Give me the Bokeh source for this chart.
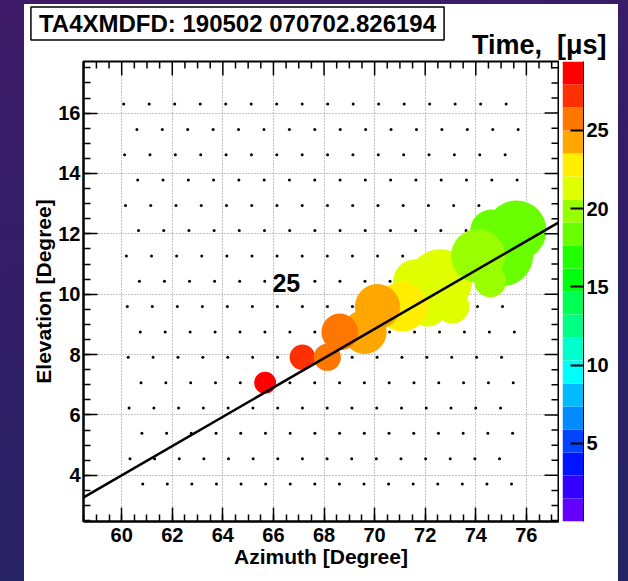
import math
from bokeh.plotting import figure
from bokeh.models import (Range1d, LinearAxis, SingleIntervalTicker, FixedTicker,
                          LinearColorMapper, Label, Slope, ColumnDataSource)
from bokeh.layouts import column, row
from bokeh.embed import file_html
from bokeh.resources import INLINE

# ---------------- data ----------------
title_text = "TA4XMDFD: 190502 070702.826194"
colorbar_title = "Time,\u00a0\u00a0[\u03bcs]"
cluster_label = "25"
x_title = "Azimuth [Degree]"
y_title = "Elevation [Degree]"

# PMT camera rows (elevation of each row, azimuth of first tube, azimuth step)
row_el = [16.30, 15.46, 14.62, 13.78, 12.94, 12.11, 11.27, 10.43,
          9.59, 8.75, 7.91, 7.07, 6.23, 5.39, 4.55, 3.71]
row_az0 = [60.080, 60.600, 60.115, 60.633, 60.151, 60.666, 60.186, 60.700,
           60.221, 60.733, 60.257, 60.765, 60.293, 60.799, 60.328, 60.832]
row_step = [1.008, 1.005, 1.003, 1.000, 0.998, 0.996, 0.993, 0.991,
            0.989, 0.986, 0.984, 0.981, 0.979, 0.977, 0.974, 0.972]
n_cols = 16

# hit tubes (row, column), time [us], signal [npe]
hit_row = [5, 6, 5, 7, 8, 8, 7, 6, 7, 8, 9, 8, 9, 10, 10, 11]
hit_col = [15, 15, 14, 12, 12, 13, 11, 14, 14, 11, 9, 10, 8, 7, 8, 5]
hit_time = [18.3, 18.0, 18.6, 21.0, 21.6, 21.2, 21.4, 19.8, 19.5, 22.6,
            24.2, 23.9, 25.3, 27.2, 25.6, 28.6]
hit_npe = [225, 225, 110, 256, 100, 72, 121, 182, 64, 156,
           121, 127, 84, 41, 46, 30]

# track fit line: elevation at azimuth 60 and slope
fit_el_at_60 = 4.0
fit_slope = 0.485

label_az, label_el = 66.51, 10.36
time_min, time_max = 0.0, 29.4
az_lo, az_hi = 58.49, 77.27
el_lo, el_hi = 2.47, 17.71
cb_ticks = [5, 10, 15, 20, 25]

# ROOT "pretty" palette, 20 contours
palette = ["#6300FF", "#3300FF", "#0014FF", "#0044FF", "#008BFF", "#00BBFF",
           "#00FFFC", "#00FFCC", "#00FF85", "#00FF55", "#00FF0E", "#22FF00",
           "#69FF00", "#99FF00", "#E0FF00", "#FFEE00", "#FFA700", "#FF7700",
           "#FF3000", "#FF0000"]

FONT = "Liberation Sans"

# ---------------- layout constants ----------------
FRAME_W, FRAME_H = 475, 460
B_LEFT, B_RIGHT, B_TOP, B_BOTTOM = 59, 1, 1, 60
HEADER_H = 56
CB_W, CB_LEFT, CB_RIGHT = 21, 3, 35

# ---------------- sources ----------------
dot_x, dot_y = [], []
for r in range(len(row_el)):
    for c in range(n_cols):
        dot_x.append(row_az0[r] + c * row_step[r])
        dot_y.append(row_el[r])

hx = [row_az0[r] + c * row_step[r] for r, c in zip(hit_row, hit_col)]
hy = [row_el[r] for r in hit_row]
hsize = [4.0 * math.sqrt(q) for q in hit_npe]
hits = ColumnDataSource(dict(x=hx, y=hy, t=hit_time, s=hsize))

mapper = LinearColorMapper(palette=palette, low=time_min, high=time_max)

# ---------------- header ----------------
HEAD_W = B_LEFT + FRAME_W + B_RIGHT + CB_LEFT + CB_W + CB_RIGHT
head = figure(width=HEAD_W, height=HEADER_H, output_backend="svg", toolbar_location=None,
              x_range=Range1d(0, HEAD_W), y_range=Range1d(HEADER_H, 0),
              min_border_left=0, min_border_right=0, min_border_top=0, min_border_bottom=0,
              x_axis_location=None, y_axis_location=None)
head.grid.visible = False
head.outline_line_color = None
head.background_fill_color = "white"
head.border_fill_color = "white"
head.add_layout(Label(x=213, y=19, text=title_text, text_font=FONT,
                      text_font_style="bold", text_font_size="24px",
                      text_align="center", text_baseline="middle", text_color="black",
                      border_line_color="black", border_line_width=1.5,
                      background_fill_color="white",
                      padding=dict(left=8, right=8, top=3, bottom=3)))
head.add_layout(Label(x=582, y=40, text=colorbar_title, text_font=FONT,
                      text_font_style="bold", text_font_size="27px",
                      text_align="right", text_baseline="middle", text_color="black"))

# ---------------- main plot ----------------
p = figure(width=B_LEFT + FRAME_W + B_RIGHT, height=B_TOP + FRAME_H + B_BOTTOM,
           output_backend="svg", toolbar_location=None,
           x_range=Range1d(az_lo, az_hi), y_range=Range1d(el_lo, el_hi),
           x_axis_label=x_title, y_axis_label=y_title,
           min_border_left=B_LEFT, min_border_right=B_RIGHT, min_border_top=B_TOP,
           min_border_bottom=B_BOTTOM)
p.background_fill_color = "white"
p.border_fill_color = "white"
p.outline_line_color = "black"
p.outline_line_width = 2

def style_axis(ax):
    ax.ticker = SingleIntervalTicker(interval=2, num_minor_ticks=4)
    ax.major_tick_in = 14
    ax.major_tick_out = 0
    ax.minor_tick_in = 7
    ax.minor_tick_out = 0
    ax.major_tick_line_color = "black"
    ax.minor_tick_line_color = "black"
    ax.major_tick_line_width = 1.5
    ax.minor_tick_line_width = 1.5
    ax.axis_line_color = "black"
    ax.axis_line_width = 2
    ax.major_label_text_font = FONT
    ax.major_label_text_font_style = "bold"
    ax.major_label_text_font_size = "20px"
    ax.major_label_text_color = "black"
    ax.axis_label_text_font = FONT
    ax.axis_label_text_font_style = "bold"
    ax.axis_label_text_font_size = "21px"
    ax.axis_label_text_color = "black"

for ax in p.xaxis:
    style_axis(ax)
    ax.major_label_standoff = 6
    ax.axis_label_standoff = 0
for ax in p.yaxis:
    style_axis(ax)
    ax.major_label_standoff = 3
    ax.axis_label_standoff = 0

for g in p.xgrid:
    g.ticker = SingleIntervalTicker(interval=2)
for g in p.ygrid:
    g.ticker = SingleIntervalTicker(interval=2)
p.grid.grid_line_color = "#8a8a8a"
p.grid.grid_line_dash = "1 2"
p.grid.grid_line_width = 1

# PMT positions
p.scatter(dot_x, dot_y, marker="circle", size=3, fill_color="black", line_color=None)

# hit tubes
p.scatter("x", "y", source=hits, marker="circle", size="s",
          fill_color={"field": "t", "transform": mapper}, line_color=None)

# mirrored ticks on the top and right frame edges
px_per_x = FRAME_W / (az_hi - az_lo)
px_per_y = FRAME_H / (el_hi - el_lo)
x_major = [v for v in range(60, 78, 2)]
x_minor = [v / 2 for v in range(int(az_lo * 2) + 1, int(az_hi * 2) + 1) if (v / 2) % 2 != 0]
y_major = [v for v in range(4, 18, 2)]
y_minor = [v / 2 for v in range(int(el_lo * 2) + 1, int(el_hi * 2) + 1) if (v / 2) % 2 != 0]
for xs, ln in ((x_major, 14), (x_minor, 7)):
    p.segment(x0=xs, x1=xs, y0=[el_hi] * len(xs), y1=[el_hi - ln / px_per_y] * len(xs),
              line_color="black", line_width=1.5)
for ys, ln in ((y_major, 14), (y_minor, 7)):
    p.segment(x0=[az_hi] * len(ys), x1=[az_hi - ln / px_per_x] * len(ys), y0=ys, y1=ys,
              line_color="black", line_width=1.5)

# track line
p.add_layout(Slope(gradient=fit_slope, y_intercept=fit_el_at_60 - fit_slope * 60.0,
                   line_color="black", line_width=2.5))

p.add_layout(Label(x=label_az, y=label_el, text=cluster_label, text_font=FONT,
                   text_font_style="bold", text_font_size="25px", text_align="center",
                   text_baseline="middle", text_color="black"))

# ---------------- colour bar ----------------
cbf = figure(width=CB_LEFT + CB_W + CB_RIGHT, height=B_TOP + FRAME_H + B_BOTTOM,
             output_backend="svg", toolbar_location=None,
             x_range=Range1d(0, 1), y_range=Range1d(time_min, time_max),
             min_border_left=CB_LEFT, min_border_right=CB_RIGHT, min_border_top=B_TOP,
             min_border_bottom=B_BOTTOM, x_axis_location=None, y_axis_location=None)
cbf.grid.visible = False
cbf.outline_line_color = None
cbf.background_fill_color = "white"
cbf.border_fill_color = "white"
n_bands = len(palette)
band = (time_max - time_min) / n_bands
cbf.quad(left=[0] * n_bands, right=[1] * n_bands,
         bottom=[time_min + k * band for k in range(n_bands)],
         top=[time_min + (k + 1) * band for k in range(n_bands)],
         fill_color=palette, line_color=None)
cax = LinearAxis(ticker=FixedTicker(ticks=cb_ticks))
cax.major_tick_in = 13
cax.major_tick_out = 0
cax.minor_tick_line_color = None
cax.major_tick_line_color = "black"
cax.major_tick_line_width = 2
cax.axis_line_color = "black"
cax.axis_line_width = 1
cax.major_label_standoff = 3
cax.major_label_text_font = FONT
cax.major_label_text_font_style = "bold"
cax.major_label_text_font_size = "20px"
cax.major_label_text_color = "black"
cbf.add_layout(cax, "right")

inner = column(head, row(p, cbf, styles={"background": "white"}),
               styles={"background": "white"})
inner.margin = (4, 10, 0, 24)
layout = column(inner, width=628, height=581,
                styles={"background": "linear-gradient(170deg, #3e1b68 0%, #2e1f66 55%, #242563 100%)"})

open("out.html", "w").write(file_html(layout, INLINE))
